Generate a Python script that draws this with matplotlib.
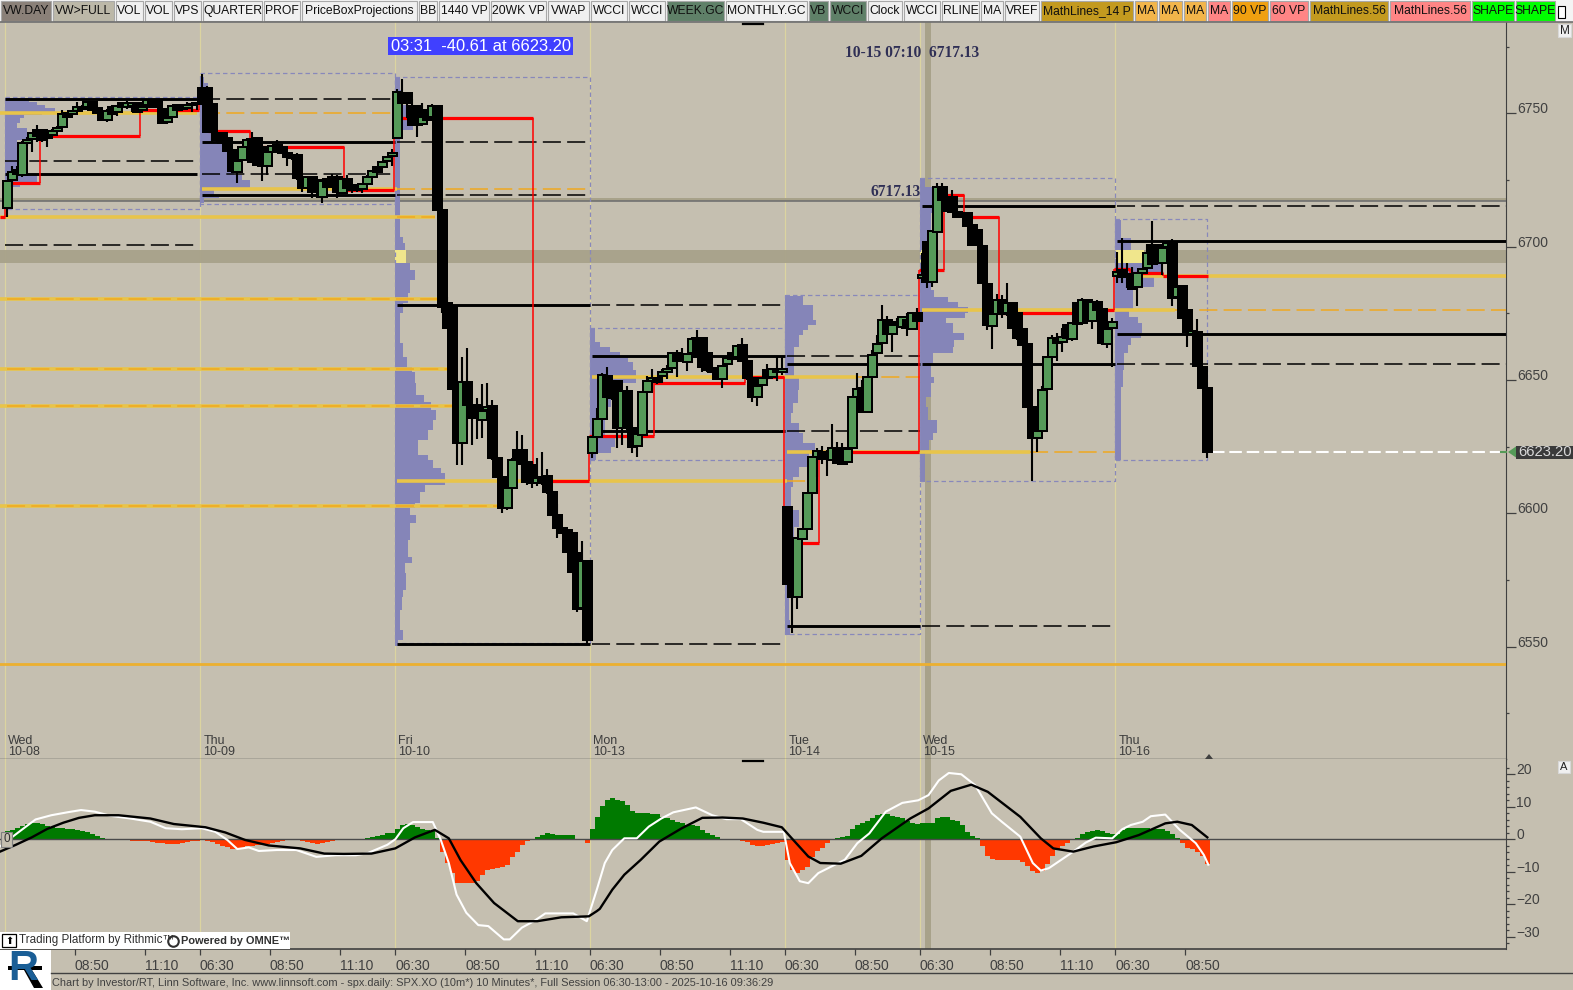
import matplotlib
matplotlib.use("Agg")
import matplotlib.pyplot as plt
import matplotlib.transforms as mtrans
from matplotlib.patches import Rectangle, Polygon
import numpy as np

plt.rcParams['font.family'] = ['Liberation Sans', 'DejaVu Sans']
plt.rcParams['lines.scale_dashes'] = False

PRICE_ADJ = 2.1

# (open, high, low, close), one row per 10 minute bar
oct08_bars = [
    (6712.5, 6722.9, 6709.2, 6722.5), (6722.9, 6728.2, 6720.4, 6725.8), (6726.5, 6728, 6723, 6725),
    (6724.8, 6737.5, 6724, 6736.6), (6736.9, 6739, 6735.5, 6737.9), (6738.2, 6741, 6733.5, 6740.4),
    (6741.5, 6743.5, 6737.3, 6739.4), (6741.5, 6742, 6737, 6738), (6740.6, 6741.5, 6735.4, 6738.5),
    (6739.8, 6742, 6739, 6741.3), (6741.4, 6743, 6741, 6742.5), (6742.9, 6749, 6742.5, 6747.5),
    (6747.9, 6748.5, 6746, 6746.4), (6747.5, 6749, 6747, 6748.8), (6748.9, 6752.1, 6748.5, 6750.3),
    (6750.4, 6751, 6749, 6749.4), (6750.1, 6752.5, 6750, 6752), (6752, 6752.3, 6749, 6749.2),
    (6749.8, 6750, 6747.5, 6747.9), (6748.9, 6749.2, 6745, 6745.4), (6745.4, 6749.5, 6744.5, 6748.9),
    (6750.4, 6751, 6746.9, 6747.5), (6748.5, 6751, 6747, 6750.6), (6751.6, 6752.2, 6750, 6750.4),
    (6750.4, 6752.6, 6749.5, 6751.6), (6750.7, 6752, 6748.5, 6751.6), (6751.6, 6752, 6748.5, 6748.5),
    (6749.2, 6751, 6748, 6750.4), (6751, 6753, 6750, 6752.9), (6753, 6753.2, 6750, 6750.4),
    (6753, 6753.2, 6750, 6750.4), (6749.4, 6749.8, 6744.4, 6744.4), (6744.8, 6746, 6744, 6746),
    (6746.5, 6751, 6746, 6750.8), (6751, 6751.5, 6749, 6749.2), (6749.5, 6750.5, 6749, 6750),
    (6750, 6752, 6749, 6751), (6751, 6752, 6748.5, 6751.5), (6751.5, 6752, 6749, 6751.8),
]
oct09_bars = [
    (6757.3, 6762.6, 6751.6, 6752.3), (6757.3, 6758, 6740.5, 6741), (6751.3, 6752, 6737.3, 6741),
    (6740.4, 6741, 6737, 6737.9), (6740.4, 6741, 6736.5, 6736.7), (6738.5, 6739, 6733.5, 6733.9),
    (6734.2, 6735, 6725.4, 6726.4), (6726, 6731, 6721.9, 6730.2), (6730.4, 6735.5, 6730, 6735.2),
    (6735.2, 6738.5, 6735, 6737.9), (6738.1, 6741, 6729.5, 6729.8), (6738.5, 6739, 6728, 6728.5),
    (6735.4, 6736, 6722.6, 6728.2), (6728.3, 6733.8, 6724.8, 6733.3), (6733.5, 6736, 6733.2, 6735.7),
    (6736, 6737.9, 6733.8, 6734.2), (6735.2, 6735.5, 6732.9, 6733.2), (6733.2, 6733.5, 6728.2, 6731.6),
    (6731, 6732.5, 6730.5, 6732), (6732.3, 6732.9, 6723, 6723.5), (6724.2, 6724.6, 6718.5, 6719.8),
    (6719.8, 6724.2, 6719.5, 6723.9), (6723.9, 6724.2, 6716, 6718.5), (6722.9, 6723.2, 6716, 6718.5),
    (6716.6, 6723, 6714.4, 6722.6), (6723.2, 6723.6, 6719.5, 6720.2), (6723.2, 6725.2, 6722.9, 6724.2),
    (6724.2, 6724.6, 6716, 6718.5), (6718.2, 6723.6, 6717.8, 6723.2), (6723.2, 6724.8, 6719.4, 6719.8),
    (6720.6, 6721, 6717.9, 6719.2), (6721, 6721.3, 6718.5, 6719.2), (6719.4, 6721.6, 6717.9, 6721.3),
    (6721.3, 6724.6, 6721, 6724.2), (6724.2, 6726.8, 6724, 6726.4), (6727.9, 6728.3, 6725.7, 6726),
    (6727.6, 6730.2, 6727.2, 6729.8), (6730.2, 6732, 6730, 6731.6), (6732, 6734.4, 6728.2, 6732.9),
]
oct10_bars = [
    (6738.8, 6757, 6738.5, 6755.8), (6755.7, 6760.8, 6751, 6751.6), (6755.7, 6756, 6746, 6751.6),
    (6750.6, 6753.3, 6743, 6743.5), (6750.6, 6751, 6739.2, 6743.5), (6743.8, 6751.6, 6743.5, 6746.4),
    (6749.2, 6749.5, 6745, 6745.4), (6746.4, 6751.3, 6746, 6750.6), (6750.6, 6751, 6711.2, 6711.6),
    (6711.6, 6712, 6673, 6675.4), (6676.6, 6679, 6667, 6667.5), (6675.4, 6676, 6644, 6644.5),
    (6644.5, 6646.6, 6616, 6624.2), (6624.2, 6656.6, 6616, 6647), (6647, 6659.8, 6629.2, 6638.5),
    (6638.5, 6639, 6623.5, 6633.5), (6638.5, 6641.3, 6625.8, 6633.5), (6632.9, 6646.4, 6626, 6636.3),
    (6636.6, 6646.6, 6635, 6637.7), (6638.2, 6640.4, 6618, 6618.5), (6618.5, 6619, 6611, 6611.7),
    (6611.6, 6612, 6598.2, 6599.8), (6599.8, 6612, 6599, 6607.3), (6607.5, 6618.5, 6607, 6617.9),
    (6621.6, 6628.8, 6617, 6617.9), (6621.6, 6627.3, 6609.2, 6616.6), (6617.3, 6617.6, 6608.5, 6609.8),
    (6616, 6617, 6607.3, 6609.2), (6609.4, 6618.5, 6608.2, 6611), (6611.6, 6620.8, 6608.5, 6609.2),
    (6611.9, 6614.5, 6605, 6606), (6606, 6606.5, 6597, 6597.3), (6597.3, 6601.6, 6588.8, 6592.3),
    (6592.3, 6592.6, 6590.2, 6590.6), (6591.6, 6592, 6583, 6583.5), (6590.6, 6591, 6575.5, 6576),
    (6582.9, 6583.2, 6561, 6562), (6562.5, 6587.5, 6562, 6580), (6580, 6580.3, 6548.6, 6550.4),
]
oct13_bars = [
    (6620.6, 6627, 6618.5, 6626.4), (6626.6, 6637.3, 6626, 6633.2), (6633.2, 6650.4, 6633, 6649.8),
    (6649.4, 6652.6, 6641, 6641.4), (6647.6, 6648, 6640.5, 6641), (6647.6, 6648, 6622.5, 6629.8),
    (6629.8, 6644, 6623.5, 6643.8), (6643.8, 6645.6, 6629, 6629.8), (6629.8, 6631, 6620.4, 6622.9),
    (6623.3, 6628, 6619.1, 6627.5), (6627.3, 6643.8, 6627, 6643.3), (6643.5, 6649.4, 6643, 6647.5),
    (6647.6, 6651.9, 6643.5, 6648.5), (6648.5, 6649, 6646.5, 6647.3), (6649.5, 6651.9, 6646.6, 6650.8),
    (6651, 6653.4, 6648.2, 6651.9), (6652.5, 6658.3, 6652, 6657.9), (6657.9, 6659.2, 6648.9, 6655.2),
    (6657.6, 6659.8, 6655, 6655.2), (6654.8, 6658, 6651.4, 6657.6), (6657.9, 6664, 6657.5, 6663.3),
    (6663.5, 6666.6, 6656, 6656.6), (6663.5, 6664, 6651, 6652.9), (6657.9, 6658, 6651, 6651.6),
    (6652.3, 6653.9, 6650.5, 6651), (6651.6, 6652, 6648, 6648.3), (6648.4, 6653.6, 6645, 6653.2),
    (6653.8, 6656.6, 6653.4, 6656), (6657.9, 6658.5, 6655, 6655.6), (6656.4, 6661, 6656, 6660.6),
    (6661, 6663.5, 6655, 6655.2), (6655.2, 6655.6, 6648, 6648.5), (6648.5, 6649, 6639.8, 6641.6),
    (6641.6, 6646, 6638.3, 6645.6), (6645.9, 6649, 6645.5, 6648.5), (6651.6, 6653.9, 6648, 6648.5),
    (6649.2, 6652.4, 6648.8, 6651.9), (6651.6, 6656.6, 6647.6, 6651), (6651, 6656.6, 6649.8, 6651.9),
]
oct14_bars = [
    (6600.2, 6600.5, 6571, 6571.6), (6572.9, 6573, 6552.9, 6566.4), (6566.4, 6589, 6561.9, 6588.5),
    (6588.2, 6592.3, 6588, 6591.9), (6592.2, 6606, 6592, 6605.4), (6605.4, 6619.3, 6605, 6618.9),
    (6619.1, 6622.3, 6611.6, 6621.3), (6621, 6623.2, 6616.6, 6618.3), (6621, 6621.5, 6611.9, 6619.8),
    (6618.1, 6631.4, 6617.8, 6622.3), (6622.3, 6624.8, 6616.5, 6616.9), (6622.3, 6624.4, 6616.2, 6616.6),
    (6617.3, 6622.3, 6617, 6621.9), (6622.3, 6641.8, 6622, 6641.4), (6641.4, 6650.4, 6641, 6644.4),
    (6644.8, 6648, 6635.5, 6636), (6636, 6649.3, 6635.6, 6648.9), (6648.9, 6659.2, 6648.5, 6657.3),
    (6657.9, 6664.6, 6657.5, 6661.3), (6661.7, 6675.9, 6661.4, 6670.4), (6670.4, 6672, 6664.8, 6665.2),
    (6665, 6669, 6658.3, 6668.5), (6669.8, 6671, 6668, 6668.5), (6667.6, 6672, 6667.2, 6671.6),
    (6670.4, 6673, 6664.5, 6667.3), (6666.9, 6673.5, 6666.5, 6672.9), (6672.9, 6675, 6669.5, 6670),
]
oct15_bars = [
    (6686.3, 6695.4, 6684.2, 6687.3), (6699.5, 6700, 6682.3, 6684.8), (6684.8, 6704.2, 6682.9, 6703.8),
    (6703.5, 6721.7, 6703.2, 6720.2), (6720.2, 6721.9, 6715, 6715.4), (6716.6, 6717, 6711, 6711.4),
    (6716.6, 6719.2, 6710.6, 6711), (6711, 6711.4, 6708.9, 6709.2), (6709.8, 6711, 6709.5, 6710.4),
    (6710.4, 6710.8, 6705.2, 6705.6), (6706, 6706.4, 6698.2, 6698.5), (6704.2, 6704.6, 6698.2, 6698.5),
    (6698.2, 6698.8, 6684, 6684.2), (6683.8, 6684, 6666.6, 6668.5), (6668.3, 6673, 6659.5, 6672.7),
    (6672.7, 6680.2, 6672.4, 6677.9), (6677.9, 6679.7, 6671, 6672.7), (6672.9, 6684.2, 6672, 6676.6),
    (6676.6, 6677, 6667, 6667.3), (6672.9, 6673.3, 6663, 6663.5), (6667, 6667.4, 6660.6, 6661),
    (6661.4, 6661.8, 6637.5, 6637.9), (6637.9, 6638.3, 6610.1, 6626), (6626, 6629.2, 6621, 6628.8),
    (6628.9, 6645.6, 6628.6, 6644.2), (6644.4, 6656.8, 6644, 6656.4), (6656.6, 6664.6, 6656.2, 6663.5),
    (6663.5, 6665.4, 6655.2, 6661.9), (6662, 6667.3, 6658.5, 6663.9), (6668.5, 6669, 6663, 6663.5),
    (6663.3, 6669.6, 6662.5, 6669.2), (6676.6, 6677, 6668.5, 6668.9), (6669.4, 6678.6, 6669, 6677.9),
    (6677.9, 6678.4, 6669.8, 6670.2), (6670.2, 6677.5, 6667, 6677), (6677, 6677.9, 6673.8, 6674.2),
    (6674.4, 6674.8, 6661, 6661.6), (6661.4, 6667.3, 6659.8, 6666.9), (6667.3, 6671, 6652.9, 6669.5),
]
oct16_bars = [
    (6687, 6696, 6684.2, 6688.5), (6689.2, 6701, 6684.2, 6686.6), (6686.9, 6691.9, 6682.3, 6687.6),
    (6686.6, 6690.4, 6681.5, 6681.9), (6682.9, 6688.5, 6675.6, 6687.9), (6687.9, 6689.9, 6687.5, 6689.4),
    (6689.8, 6699, 6689.4, 6695.4), (6698.5, 6707.5, 6691, 6691.4), (6698.5, 6698.9, 6691.2, 6691.6),
    (6691.9, 6697.7, 6687.3, 6697.3), (6697.6, 6699.6, 6697.2, 6699.2), (6699.4, 6700.6, 6675.6, 6678.8),
    (6678.9, 6683.3, 6678.5, 6682.9), (6683.2, 6683.6, 6670.6, 6671), (6674.2, 6674.6, 6660.4, 6665.8),
    (6665.2, 6670.4, 6664.8, 6666.4), (6666, 6670.8, 6652.9, 6653.3), (6652.9, 6653.2, 6644.4, 6644.8),
    (6644.8, 6645.2, 6618.5, 6621.1),
]

day_names = ["Wed", "Thu", "Fri", "Mon", "Tue", "Wed", "Thu"]
day_dates = ["10-08", "10-09", "10-10", "10-13", "10-14", "10-15", "10-16"]

# volume profile of each session: price edges (top down) and width of each bin in bars
vp08_edges = [6753.5, 6752.3, 6751, 6749.8, 6748.5, 6747.3, 6746, 6744.2, 6742.3, 6739.8, 6737.9, 6734.8, 6729.2, 6724.8, 6722.3, 6720.4, 6717.9]
vp08_sizes = [4.7, 6.4, 8, 10, 7.4, 3.7, 3, 2.4, 4.4, 6.4, 2.4, 2.4, 4.4, 6.4, 3, 1.6]
vp09_edges = [6761.6, 6759.2, 6755.4, 6750.4, 6745.4, 6740.4, 6735.4, 6727.9, 6724.8, 6722.9, 6721, 6719.8, 6716.6, 6716, 6714.1]
vp09_sizes = [0.7, 1.5, 1, 1.7, 2.7, 4.7, 6, 6.7, 8.3, 10, 10, 2.7, 3.7, 0.7]
vp10_edges = [6761.6, 6756.65, 6751, 6741.65, 6737.9, 6701.65, 6699.15, 6696.65, 6691.65, 6689.15, 6685.4, 6680.4, 6676.65, 6672.9, 6661.65, 6656.65,
              6652.9, 6651, 6646.65, 6642.3, 6639.8, 6636.65, 6632.9, 6629.15, 6625.4, 6619.8, 6617.9, 6614.8, 6612.9, 6608.5, 6606, 6601.65, 6599.8,
              6597.3, 6594.15, 6587.9, 6581.65, 6579.15, 6575.4, 6569.15, 6566.65, 6561.65, 6554.15, 6550.4, 6548]
vp10_sizes = [0.9, 1.2, 3.5, 1, 0.9, 1.5, 1.9, 2.2, 2.9, 3.9, 3, 2.5, 1.6, 0.9, 1.6, 2.4,
              3.3, 4, 4.2, 5.7, 7.2, 8.2, 7.5, 6.5, 4.5, 6.5, 7.5, 9.2, 9.9, 5.9, 4.9, 3.9,
              3, 4.2, 2.9, 2.5, 3.3, 2, 2.2, 1.5, 1.3, 1, 1.6, 0.5]
vp13_edges = [6667.3, 6662.3, 6660.4, 6658.5, 6656, 6654.8, 6651.6, 6649.8, 6646.65, 6643.5, 6637.9, 6632.9, 6626.65, 6622.9, 6620.4, 6617.9]
vp13_sizes = [0.9, 2, 3.9, 5.9, 7.5, 8.5, 9.2, 9.2, 5.9, 4.2, 2.5, 2.9, 4.9, 4.2, 1.2]
vp14_edges = [6679.4, 6676, 6670.4, 6668.5, 6666.65, 6664.8, 6660.4, 6649.15, 6644.15, 6639.15, 6635.4, 6631.65, 6627.9, 6624.15, 6620.4, 6615.4, 6611.65, 6607.9, 6599.15, 6592.9, 6582.9, 6570.4, 6557.9, 6552.3]
vp14_sizes = [3.5, 5.5, 6.1, 4.5, 3.5, 2.8, 1.8, 2.8, 2.5, 1.5, 1.1, 2.8, 3.5, 6, 4.8, 2.8, 1.5, 1.1, 2.8, 1.8, 1, 0.8, 0.9]
vp15_edges = [6723.5, 6720.4, 6710.4, 6696.65, 6691.65, 6681.65, 6679.15, 6677.3, 6675.4, 6672.9, 6671, 6669.15, 6665.4, 6662.9, 6660.4, 6657.9, 6654.15, 6649.15, 6646.65, 6641.65, 6637.9, 6632.9, 6627.9, 6625.4, 6621.65, 6609.8]
vp15_sizes = [0.9, 2.7, 2.1, 1.5, 2.1, 2.8, 5.5, 7.5, 9.5, 9, 5.1, 6.5, 8.8, 6.8, 6.5, 2.5, 2.1, 2.7, 2.1, 1.1, 1.5, 3.3, 2.5, 1.8, 0.9]
vp16_edges = [6707.9, 6701, 6696.65, 6691.65, 6686.65, 6682.9, 6674.15, 6671.65, 6669.15, 6665.4, 6663.5, 6661, 6657.9, 6651.65, 6645.4, 6617.9]
vp16_sizes = [1.1, 3.1, 5.8, 9.1, 7.8, 3.5, 2.8, 4.5, 5.3, 5.1, 3.1, 2.5, 1.8, 1.5, 1.1]

# session range boxes (top, bottom)
box_tops = [6754.1, 6763.1, 6761.5, 6667.4, 6679.8, 6723.7, 6708.3]
box_bottoms = [6712, 6713.9, 6549.3, 6617.9, 6552.7, 6610, 6617.9]

LAST_X = 299.74

# levels: first bar, last bar, price
black_solid = [(-0.5, 38, 6753.3), (-0.5, 38, 6725.2), (39, 77.5, 6737.2), (39, 77.5, 6717.1),
               (78, 116.5, 6676), (78, 116.5, 6549), (117, 155.5, 6656.9), (117, 155.5, 6628.8),
               (156, 182.5, 6653.8), (156, 182.5, 6555.7), (183, 221.5, 6653.8), (183, 221.5, 6713.1),
               (222, LAST_X, 6700), (222, LAST_X, 6665.3)]
black_dashed = [(-0.5, 38, 6730), (-0.5, 38, 6698.5), (39, 77.5, 6753.3), (39, 77.5, 6725.2),
                (78, 116.5, 6737.2), (78, 116.5, 6717.1), (117, 155.5, 6676), (117, 155.5, 6549),
                (156, 182.5, 6656.9), (156, 182.5, 6628.8), (183, 221.5, 6555.7),
                (222, LAST_X, 6653.8), (222, LAST_X, 6713.1)]
yellow_solid = [(-1.46, 38, 6748.1), (39, 78, 6719.4), (-1.46, 85.5, 6709.2), (-1.46, 86, 6678.1),
                (-1.46, 88, 6652.2), (-1.46, 89, 6638.1), (78, 156, 6610), (-1.46, 98, 6600.8),
                (117, 170, 6648.9), (156, 204.5, 6620.9), (183, 233.5, 6674.1), (222, LAST_X, 6687)]
orange_dashed = [(39, 77.5, 6748.1), (78, 116.5, 6719.4), (78, 85.5, 6709.2), (0, 86, 6678.1),
                 (0, 88, 6652.2), (0, 89, 6638.1), (156, 160, 6610), (0, 98, 6600.8),
                 (170, 182.5, 6648.9), (204.5, 221.5, 6620.9), (233.5, LAST_X, 6674.1)]
gold_floor = 6541.6
session_band = (6691.65, 6696.65)
grey_level = (6715, 6716.1)
marked_bar = 184.1

# migrating point of control: (bar, price) corners of the stepped red line
poc_bars = [-1.46, -0.46, -0.46, 6.54, 6.54, 26.54, 26.54, 38.34, 38.34, 40.14, 40.14, 48.54, 48.54, 67.34, 67.34, 77.34, 77.34,
            105.14, 105.14, 116.34, 116.34, 129.34, 129.34, 147.54, 147.54, 155.34, 155.34, 162.34, 162.34, 182.34, 182.34,
            187.34, 187.34, 191.34, 191.34, 198.34, 198.34, 218.54, 218.54, 221.34, 221.34, 224.54, 224.54, 231.14, 231.14, 240.14]
poc_prices = [6709, 6709, 6721.8, 6721.8, 6739.4, 6739.4, 6749.15, 6749.15, 6756.3, 6756.3, 6741.1, 6741.1, 6735.3, 6735.3, 6719, 6719, 6746.15,
              6746.15, 6610, 6610, 6626.9, 6626.9, 6646.8, 6646.8, 6649, 6649, 6586.8, 6586.8, 6620.9, 6620.9, 6689.15,
              6689.15, 6717.3, 6717.3, 6709, 6709, 6673, 6673, 6674.15, 6674.15, 6689.5, 6689.5, 6688, 6688, 6686.9, 6686.9]

# oscillator histogram, one value per bar
osc_hist = [2.5, 3, 3.6, 4.1, 4.7, 5.1, 5.1, 4.7, 4.1, 3.7, 3.6, 3.6, 3.3, 3.1, 2.9, 2.6, 2.1, 1.6, 1, 0.5,
            0.1, 0, 0, 0, -0.3, -0.4, -0.4, -0.5, -0.6, -0.7, -1, -1.2, -1.6, -1.6, -1.3, -1, -0.8, -0.6, -0.6,
            0, -0.4, -0.8, -1.5, -2.2, -2.5, -2.9, -3, -2.6, -2.2, -2, -1.8, -1.7, -1.5, -1.1, -0.7, -0.4, -0.3, -0.2, -0.1,
            -0.4, -0.8, -1.2, -1.6, -1.1, -0.8, -0.4, -0.2, 0, 0, 0, 0, 0.2, 0.5, 0.8, 1.1, 1.4, 1.8, 2,
            3.2, 4.3, 4.6, 4.3, 3.7, 3.3, 2.8, 2.6, 0.5, -4, -7.2, -10.5, -13.6, -13.6, -13.6, -13.5, -12.9, -10.9, -9.3, -9, -8.8, -8.6,
            -8, -5.3, -3.8, -1.7, -0.4, 0, 0.7, 1.3, 1.8, 1.7, 1.4, 1.4, 1.2, 1.2, -0.3, 0, -1,
            3.1, 7, 10.2, 12, 12.7, 12, 11.7, 10.5, 8.7, 8, 8, 8, 7.7, 7.7, 6.9, 6.4, 5.9, 5.4, 4.9, 4.4, 4.4, 4.1, 2.9, 2, 1.3, 0.6,
            0, 0, 0, 0, -0.4, -0.8, -1.7, -2.1, -2.1, -1.7, -1.4, -1.2, -0.8,
            -6.4, -9.5, -10.5, -9.4, -8.4, -5.5, -3.6, -2.6, -1.2, 0, 0.4, 0.6, 1.1, 3.3, 4.3, 5, 5.6, 6.5, 7.5, 7.9, 7.9, 7.3, 6.8, 6.4, 5.6, 5.1, 4.8,
            5, 4.9, 4.9, 6.5, 6.9, 6.9, 6, 5.5, 4.3, 2.3, 1.1, 0.4, -2.1, -5, -6.1, -6.3, -6.5, -6.5, -6.3, -6.3, -7, -8.3, -9.8, -10.3, -9.8, -7.5,
            -5, -3.3, -2.2, -1.2, 0, 0.4, 1.6, 2.2, 2.7, 2.9, 2.5, 2, 1.6,
            1.7, 3, 3.5, 3.5, 3.5, 3.5, 3.5, 3.3, 3.1, 3.2, 2.7, 1.5, 0.5, -1.2, -2.6, -3.1, -4, -5, -7.7]

osc_white_x = [-1.46, 0.9, 3.3, 5.65, 8.8, 12, 14.75, 17.5, 20.7, 24.6, 28.6, 31.7, 34.9, 38.9, 41.6, 44, 46, 48.3, 50.3, 53.9, 57.8, 61.8, 65.7, 69.7, 72, 76,
               77.6, 79.2, 81.15, 85.1, 86.7, 88.3, 89.85, 91.8, 94.2, 96.2, 99.3, 100.5, 102.9, 105.3, 107.6, 113.2, 115.9, 117.9, 119.5, 121, 123.4, 125.9, 128.3,
               130.8, 133.2, 137.7, 141, 143.8, 146.7, 150, 151.2, 155.3, 156.5, 158.5, 160.2, 162.2, 167.5, 170, 172.4, 175.7, 179, 182.2, 184.25, 186.3,
               188.3, 190.8, 193.6, 196.9, 198.9, 202.6, 205.1, 206.7, 208.3, 213.2, 215.7, 217.7, 221, 223, 224.7, 227.1, 228.7, 231.6, 234.5, 237.7, 239.3, 240.2]
osc_white = [-2.2, 0.6, 3.4, 6.1, 7.4, 8.3, 9, 8.5, 7.2, 6.4, 5.4, 3.4, 3.1, 3.4, 2.3, -0.2, -3, -2.5, -3.6, -3.3, -3.3, -5.4, -4.9, -4.9, -4.3, -1.7,
             0, 3.4, 5.3, 5.3, -0.2, -7.3, -17, -22.6, -26.4, -26.7, -30.8, -30.8, -27.2, -25.2, -22.8, -22.8, -25.2, -15.5, -7.3, -3.3, 0.3, 0.3, 3.9,
             6.4, 8.3, 9.8, 7.4, 6.2, 6.2, 2.9, 2.3, 2.3, -7.3, -12.9, -13.5, -10.4, -6.3, -1.2, 1.8, 8.5, 11.2, 12, 13.6, 18.1,
             20.4, 20, 16.6, 8, 5.4, 0.8, -7.3, -9.6, -8.9, -3.8, -1, 0.5, 0.3, 3.1, 4.4, 5.4, 7.1, 7.6, 2.9, -1.2, -4.8, -7.8]
osc_black_x = [-1.46, 1.7, 4.9, 8, 11.2, 14.35, 17.5, 22.25, 28.6, 33.3, 39.65, 43.6, 47.55, 52.3, 58.6, 63.4, 67.3, 72.85, 77.6, 81.55, 85.5, 88.3, 90.65,
               93.8, 97.35, 102.1, 106, 110.8, 116.3, 117.9, 118.5, 121, 123.4, 126.7, 130.4, 134.9, 139, 143, 147.1, 151.2, 154.9, 156.9, 160.2, 162.6, 166.7,
               170.8, 174.9, 180.6, 184.25, 188.7, 192.8, 196.1, 202.6, 206.7, 209.2, 213.2, 217.3, 221.8, 226.3, 231.6, 234, 236.9, 240]
osc_black = [-3.8, -1.7, 0.6, 3.2, 5.1, 6.6, 7.4, 7.4, 6.4, 4.7, 3.7, 2.1, -0.2, -1.9, -2.8, -4.4, -4.5, -4.4, -2.8, 0.6, 2.9, 0.3, -6.4,
             -13.5, -19.6, -25.2, -25.2, -24, -23.7, -22.1, -21.4, -15.5, -10.9, -6.3, -0.7, 3.4, 6.6, 6.7, 6.4, 5.1, 3.7, 0.3, -5.3, -7.3, -7.5,
             -5.1, 0.3, 6.4, 9.5, 14.9, 16.8, 14.6, 6.9, 0.3, -2.8, -3.8, -2.2, -0.9, 1.3, 4.9, 5.4, 4.4, 0.6]

# time axis: bars carrying a tick, and their labels
time_tick_bars = [14, 28, 39, 53, 67, 78, 92, 106, 117, 131, 145, 156, 170, 183, 197, 211, 222, 236]
time_tick_labels = ["08:50", "11:10", "06:30", "08:50", "11:10", "06:30", "08:50", "11:10", "06:30", "08:50", "11:10",
                    "06:30", "08:50", "06:30", "08:50", "11:10", "06:30", "08:50"]

button_names = ["VW.DAY", "VW>FULL", "VOL", "VOL", "VPS", "QUARTER", "PROF", "PriceBoxProjections", "BB", "1440 VP", "20WK VP", "VWAP",
                "WCCI", "WCCI", "WEEK.GC", "MONTHLY.GC", "VB", "WCCI", "Clock", "WCCI", "RLINE", "MA", "VREF", "MathLines_14 P",
                "MA", "MA", "MA", "MA", "90 VP", "60 VP", "MathLines.56", "MathLines.56", "SHAPE", "SHAPE"]
button_edges = [0, 52, 115, 144, 173, 202, 263, 301, 418, 438, 490, 547, 590, 628, 666, 725, 808, 829, 867, 903, 941, 980, 1004, 1040,
                1134, 1158, 1183, 1207, 1231, 1269, 1309, 1389, 1471, 1515, 1556]
button_colors = ["#8a8078", "#bcb8a8", "#f0f0f0", "#f0f0f0", "#f0f0f0", "#f0f0f0", "#f0f0f0", "#f0f0f0", "#f0f0f0", "#f0f0f0", "#f0f0f0", "#f0f0f0",
                 "#f0f0f0", "#f0f0f0", "#5f8068", "#f0f0f0", "#5f8068", "#5f8068", "#f0f0f0", "#f0f0f0", "#f0f0f0", "#f0f0f0", "#f0f0f0", "#c39a1f",
                 "#f2b54a", "#f2b54a", "#f2b54a", "#ff8585", "#f0a010", "#ff8585", "#c39a1f", "#ff8585", "#00ff00", "#00ff00"]

day_starts = [0, 39, 78, 117, 156, 183, 222]
session_bars = [oct08_bars, oct09_bars, oct10_bars, oct13_bars, oct14_bars, oct15_bars, oct16_bars]
session_vps = [(vp08_edges, vp08_sizes), (vp09_edges, vp09_sizes), (vp10_edges, vp10_sizes), (vp13_edges, vp13_sizes),
               (vp14_edges, vp14_sizes), (vp15_edges, vp15_sizes), (vp16_edges, vp16_sizes)]

PANE = "#c5bfb0"
GREEN = "#559a58"
PURPLE = "#8585b8"
W, H = 1573, 990


def draw_levels(ax, levels, **style):
    for x0, x1, price in levels:
        ax.plot([x0, x1], [price + PRICE_ADJ] * 2, solid_capstyle='butt', dash_capstyle='butt', **style)


def draw_profile(ax, start, edges, sizes):
    edges = np.array(edges) + PRICE_ADJ
    band_low, band_high = np.array(session_band) + PRICE_ADJ
    for i, size in enumerate(sizes):
        mid = (edges[i] + edges[i + 1]) / 2
        color = "#f0e68c" if band_low < mid < band_high else PURPLE
        ax.barh(edges[i + 1], size, height=edges[i] - edges[i + 1], left=start - 0.4, align='edge',
                color=color, linewidth=0, zorder=3, antialiased=False)


def draw_candles(ax, start, bars):
    for i, (o, h, l, c) in enumerate(bars):
        x = start + i
        z = 10 + (start + i) * 0.01
        o, h, l, c = o + PRICE_ADJ, h + PRICE_ADJ, l + PRICE_ADJ, c + PRICE_ADJ
        ax.vlines(x, l, h, color='black', linewidth=1.5, zorder=z)
        ax.bar(x, abs(c - o), bottom=min(o, c), width=1.7, color=GREEN if c >= o else 'black',
               edgecolor='black', linewidth=1.1, zorder=z, antialiased=False)


def draw_price_pane(ax):
    ax.set_facecolor(PANE)
    ax.set_xlim(-1.46, LAST_X)
    ax.set_ylim(6507.9, 6784.25)

    for s in day_starts:
        ax.axvline(s - 0.4, color="#dcd4a0", linewidth=0.9, zorder=1)
    ax.axvspan(marked_bar - 0.6, marked_bar + 0.6, color="#a8a28a", linewidth=0, zorder=2)
    ax.axhspan(session_band[0] + PRICE_ADJ, session_band[1] + PRICE_ADJ, color="#a8a28a", alpha=0.95, linewidth=0, zorder=2.5)
    ax.axhspan(grey_level[0] + PRICE_ADJ, grey_level[1] + PRICE_ADJ, color="#a8a28a", linewidth=0, zorder=2)
    ax.axhline(grey_level[0] + PRICE_ADJ, color="#707070", linewidth=1.2, zorder=2.6)

    for s, (edges, sizes) in zip(day_starts, session_vps):
        draw_profile(ax, s, edges, sizes)

    ends = day_starts[1:] + [240.5]
    for s, e, top, bottom in zip(day_starts, ends, box_tops, box_bottoms):
        ax.plot([s - 0.4, e - 0.5, e - 0.5, s - 0.4, s - 0.4],
                [top + PRICE_ADJ, top + PRICE_ADJ, bottom + PRICE_ADJ, bottom + PRICE_ADJ, top + PRICE_ADJ],
                color="#8888bb", linewidth=0.9, linestyle=(0, (3.2, 2.2)), zorder=3.5)

    draw_levels(ax, yellow_solid, color="#e8c44a", linewidth=2.6, zorder=4)
    draw_levels(ax, orange_dashed, color="#f0a820", linewidth=1.1, linestyle=(0, (13, 4.5)), zorder=4.1)
    draw_levels(ax, black_dashed, color='black', linewidth=1.1, linestyle=(0, (13, 4.5)), zorder=4.2)
    draw_levels(ax, black_solid, color='black', linewidth=2.1, zorder=4.3)
    ax.axhline(gold_floor + PRICE_ADJ, color="#ecb030", linewidth=2, zorder=4)

    # red line: flat legs are heavy, the connecting legs are thin
    for i in range(len(poc_bars) - 1):
        flat = poc_prices[i] == poc_prices[i + 1]
        ax.plot(poc_bars[i:i + 2], np.array(poc_prices[i:i + 2]) + PRICE_ADJ, color="#ff0000",
                linewidth=2.3 if flat else 1.1, solid_capstyle='butt', zorder=5)

    for s, e in zip(day_starts, session_bars):
        draw_candles(ax, s, e)

    last_close = oct16_bars[-1][3] + PRICE_ADJ
    ax.plot([241, LAST_X], [last_close, last_close], color='white', linewidth=1.5, linestyle=(0, (9, 3.5)), zorder=6)

    ax.text(182.6, 6717.4, "6717.13", ha='right', va='bottom', color="#2f2f55", fontsize=11.2,
            fontweight='bold', family='Liberation Serif', zorder=9)
    ax.text(167.5, 6772.6, "10-15 07:10  6717.13", ha='left', va='center', color="#2f2f55", fontsize=11.2,
            fontweight='bold', family='Liberation Serif', zorder=9)

    trans = mtrans.blended_transform_factory(ax.transData, ax.transAxes)
    for s, name, date in zip(day_starts, day_names, day_dates):
        ax.text(s + 0.2, 18 / 737, name, transform=trans, fontsize=9, color="#3c3c3c", va='center')
        ax.text(s + 0.2, 7 / 737, date, transform=trans, fontsize=9, color="#3c3c3c", va='center')

    ax.yaxis.tick_right()
    ax.set_yticks([6550, 6600, 6650, 6700, 6750])
    ax.set_yticks([6525, 6575, 6625, 6675, 6725, 6775], minor=True)
    ax.tick_params(axis='y', which='major', length=7, width=0.9, color="#404040", labelcolor="#404040", labelsize=10, pad=1)
    ax.tick_params(axis='y', which='minor', length=2.5, width=0.9, color="#404040")
    for label in ax.get_yticklabels():
        label.set_va('baseline')
    ax.set_xticks([])
    for side in ['top', 'left']:
        ax.spines[side].set_visible(False)
    ax.spines['right'].set_color("#404040")
    ax.spines['bottom'].set_color("#404040")
    ax.spines['bottom'].set_linewidth(1)


def draw_osc_pane(ax):
    ax.set_facecolor(PANE)
    ax.set_xlim(-1.46, LAST_X)
    ax.set_ylim(-33.75, 24.7)
    for s in day_starts:
        ax.axvline(s - 0.4, color="#dcd4a0", linewidth=0.9, zorder=1)
    ax.axvspan(marked_bar - 0.6, marked_bar + 0.6, color="#a8a28a", linewidth=0, zorder=2)

    hist = np.array(osc_hist)
    bars = np.arange(len(hist))
    ax.bar(bars, hist, width=1.0, color=np.where(hist >= 0, "#007a00", "#ff3800"), linewidth=0, zorder=3, antialiased=False)
    ax.axhline(0, color="#4a4a4a", linewidth=1, zorder=4)
    ax.plot(osc_white_x, osc_white, color='white', linewidth=1.5, zorder=5)
    ax.plot(osc_black_x, osc_black, color='black', linewidth=1.7, zorder=6)

    ax.yaxis.tick_right()
    ax.set_yticks([-30, -20, -10, 0, 10, 20])
    ax.set_yticks(np.arange(-32, 24, 2), minor=True)
    ax.tick_params(axis='y', which='major', length=6.5, width=0.9, color="#404040", labelcolor="#404040", labelsize=10, pad=1)
    ax.tick_params(axis='y', which='minor', length=2.2, width=0.9, color="#404040")
    for label in ax.get_yticklabels():
        label.set_va('baseline')
    ax.set_xticks(np.array(time_tick_bars) - 0.46)
    ax.set_xticklabels(time_tick_labels, ha='left', fontsize=10, color="#404040")
    ax.tick_params(axis='x', length=4.5, width=0.9, color="#404040", pad=2.5)
    ax.spines['top'].set_visible(False)
    ax.spines['left'].set_visible(False)
    ax.spines['right'].set_color("#404040")
    ax.spines['bottom'].set_color("#404040")
    ax.spines['bottom'].set_linewidth(1.2)


def draw_chrome(ax):
    # toolbar, boxes and footer are laid out in pixels
    ax.set_xlim(0, W)
    ax.set_ylim(H, 0)
    ax.axis('off')

    ax.add_patch(Rectangle((0, 0), W, 22, color="#f4f4f4", linewidth=0))
    ax.plot([0, W], [22, 22], color="#707070", linewidth=1.2)
    for i, name in enumerate(button_names):
        x0, x1 = button_edges[i], button_edges[i + 1]
        ax.add_patch(Rectangle((x0 + 0.5, 1), x1 - x0 - 1.5, 20, facecolor=button_colors[i], edgecolor="#a8a8a8", linewidth=0.8))
        ax.text((x0 + x1) / 2, 11, name, ha='center', va='center', fontsize=8.7, color="#101010")
    ax.add_patch(Rectangle((1558, 6), 7, 12, facecolor='white', edgecolor='black', linewidth=0.8))

    ax.add_patch(Rectangle((388, 37), 185, 18, color="#4040ff", linewidth=0))
    ax.text(391, 46.5, "03:31  -40.61 at 6623.20", color='white', fontsize=11.9, va='center')

    ax.add_patch(Rectangle((1558, 24), 13, 13, facecolor="#f0f0f0", edgecolor="#d8d8d8", linewidth=0.8))
    ax.text(1564.5, 30.5, "M", ha='center', va='center', fontsize=8.5, color="#202020")
    ax.add_patch(Rectangle((1558, 761), 12, 12, facecolor="#f0f0f0", edgecolor="#d8d8d8", linewidth=0.8))
    ax.text(1564, 767, "A", ha='center', va='center', fontsize=8, color="#202020")

    # last price tag
    ax.add_patch(Polygon([[1508, 452], [1516, 446.5], [1516, 457.5]], color="#559a58", linewidth=0))
    ax.add_patch(Rectangle((1516, 446), 57, 13, color="#3a3a3a", linewidth=0))
    ax.text(1518, 452.5, "6623.20", color="#d8d8d8", fontsize=10.6, va='center')
    ax.plot([1501, 1506], [452, 452], color="#559a58", linewidth=1.5)

    ax.plot([743, 763], [23.5, 23.5], color='black', linewidth=1.6)
    ax.plot([743, 763], [760.5, 760.5], color='black', linewidth=1.6)
    ax.add_patch(Polygon([[1205, 759], [1209, 754], [1213, 759]], color="#404040", linewidth=0))

    ax.add_patch(Rectangle((1, 832), 11, 15, facecolor=PANE, edgecolor="#808080", linewidth=0.8))
    ax.text(6.5, 839.5, "0", ha='center', va='center', fontsize=8.5, color="#303030")

    ax.add_patch(Rectangle((0, 932), 290, 16.5, color='white', linewidth=0))
    ax.add_patch(Rectangle((2, 934), 14, 13, facecolor='white', edgecolor='black', linewidth=0.9))
    ax.text(9, 940.5, "\u2b06", ha='center', va='center', fontsize=7, family='DejaVu Sans', color='black')
    ax.text(19, 940.5, "Trading Platform by Rithmic\u2122", fontsize=8.4, va='center', color="#303030")
    ax.plot([172.7], [940.5], marker='o', markersize=7.6, markerfacecolor='none', markeredgecolor="#303030", markeredgewidth=1.5)
    ax.text(181, 940.5, "Powered by OMNE\u2122", fontsize=7.9, va='center', color="#303030", fontweight='bold')

    # footer
    ax.plot([51, W], [973, 973], color="#404040", linewidth=1)
    ax.add_patch(Rectangle((0, 950), 51, 40, color='white', linewidth=0))
    ax.text(23, 969, "R", color="#1a5e96", fontsize=30, fontweight='bold', ha='center', va='center')
    ax.add_patch(Polygon([[24, 970], [32, 970], [43, 988], [34, 988]], color='black', linewidth=0))
    ax.add_patch(Rectangle((8, 966), 34, 4, color='black', linewidth=0))
    ax.text(52, 982.5, "Chart by Investor/RT, Linn Software, Inc. www.linnsoft.com - spx.daily: SPX.XO (10m*) 10 Minutes*, "
            "Full Session 06:30-13:00 - 2025-10-16 09:36:29", fontsize=7.95, va='center', color="#404040")


fig = plt.figure(figsize=(W / 100, H / 100), dpi=100, facecolor=PANE)
right = 1506 / W
ax_price = fig.add_axes([0, (H - 759) / H, right, 737 / H])
ax_osc = fig.add_axes([0, (H - 949) / H, right, 190 / H])
ax_ui = fig.add_axes([0, 0, 1, 1], facecolor='none')

draw_price_pane(ax_price)
draw_osc_pane(ax_osc)
draw_chrome(ax_ui)

fig.savefig("out.png", dpi=100, facecolor=PANE)
